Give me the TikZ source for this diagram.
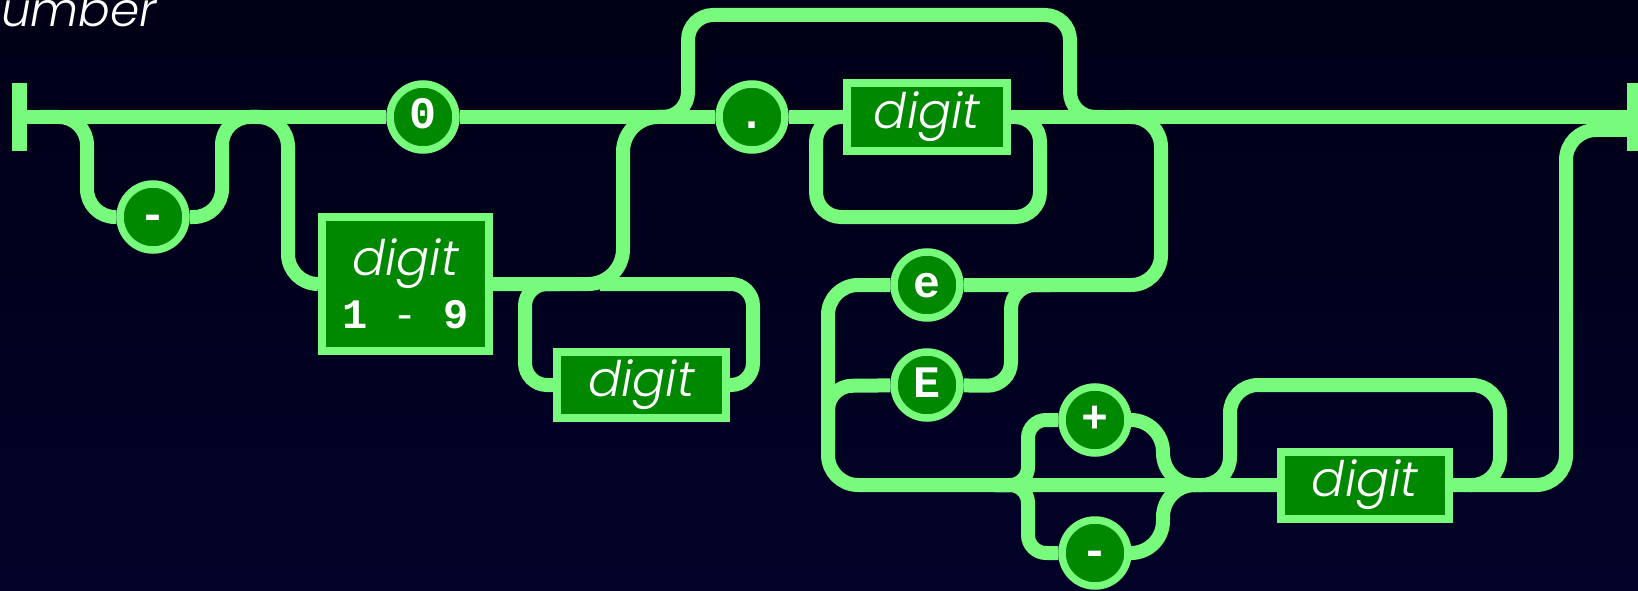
\documentclass[tikz,border=0pt]{standalone}
\usepackage{fontspec}
\newfontfamily\railsans{Poppins}[UprightFont={* Light Italic}]
\newfontfamily\railmono{Liberation Mono}
\definecolor{railgreen}{RGB}{120,250,124}
\definecolor{boxgreen}{RGB}{0,136,0}
\definecolor{skytop}{RGB}{0,0,22}
\definecolor{skybottom}{RGB}{2,2,40}
\pgfdeclarelayer{backdrop}
\pgfdeclarelayer{rails}
\pgfsetlayers{backdrop,rails,main}
\newcommand\railntfont{\railsans\fontsize{49}{53}\selectfont}
\newcommand\railtermfont{\railmono\bfseries\upshape\fontsize{45}{45}\selectfont}
\newcommand\railtitlefont{\railsans\fontsize{47}{52}\selectfont}
\tikzset{
  rail/.style={draw=railgreen, line width=14pt, rounded corners=28pt},
  terminal/.style={circle, draw=railgreen, fill=boxgreen, line width=7.5pt,
    minimum size=66pt, inner sep=0pt, text=white, font=\railtermfont,
    text height=24pt, text depth=0pt},
  nonterminal/.style={rectangle, draw=railgreen, fill=boxgreen, line width=8pt,
    inner sep=0pt, text=white, font=\railntfont},
  endbar/.style={rectangle, fill=railgreen, minimum width=15pt,
    minimum height=68pt, inner sep=0pt},
}
\begin{document}
\begin{tikzpicture}[x=1pt,y=-1pt]
\useasboundingbox (0,0) rectangle (1638,591);
\begin{pgfonlayer}{backdrop}
  \fill[top color=skytop, bottom color=skybottom] (0,0) rectangle (1638,591);
\end{pgfonlayer}

% title
\node[anchor=base east, font=\railtitlefont, text=white, inner sep=0pt] (title) at (157,27) {Number};

% end bars
\node[endbar] (start) at (19.5,117) {};
\node[endbar] (stop) at (1634.5,117) {};

% terminals and non-terminals
\node[terminal] (neg) at (153,217) {-};
\node[terminal] (zero) at (423,117) {0};
\node[nonterminal, minimum width=167pt, minimum height=134pt, align=center] (d19)
  at (405.5,284) {digit\\{\railtermfont\fontsize{42}{42}\selectfont 1 {\mdseries -} 9}};
\node[nonterminal, minimum width=169pt, minimum height=66pt] (dA) at (641.5,385) {digit};
\node[terminal] (dot) at (752,117) {.};
\node[nonterminal, minimum width=160pt, minimum height=68pt] (dB) at (927,117) {digit};
\node[terminal] (elo) at (927,285) {e};
\node[terminal] (eup) at (927,385) {E};
\node[terminal] (plus) at (1095,420) {+};
\node[terminal] (minus) at (1095,553) {-};
\node[nonterminal, minimum width=168pt, minimum height=67pt] (dC) at (1365,485) {digit};

% junctions on the rails
\coordinate (j1) at (40,117);
\coordinate (j2) at (262,117);
\coordinate (j3) at (250,117);
\coordinate (j4) at (668,117);
\coordinate (j5) at (600,284);
\coordinate (j6) at (560,284);
\coordinate (j7) at (655,117);
\coordinate (j8) at (1105,117);
\coordinate (j9) at (845,117);
\coordinate (j10) at (1012,117);
\coordinate (j11) at (1125,117);
\coordinate (j12) at (828,440);
\coordinate (j13) at (1050,285);
\coordinate (j14) at (995,485);
\coordinate (j15) at (1196,485);
\coordinate (j16) at (1198,485);
\coordinate (j17) at (1470,485);

\begin{pgfonlayer}{rails}
  % main line
  \draw[rail] (start) -- (zero) -- (dot) -- (dB) -- (stop);
  % optional minus sign
  \draw[rail] (j1) -- (87,117) -- (87,217) -- (neg) -- (222,217) -- (222,117) -- (j2);
  % integer part: 1-9 followed by digits
  \draw[rail, rounded corners=30pt] (j3) -- (288,117) -- (288,284) -- (d19);
  \draw[rail, rounded corners=35pt] (d19) -- (623,284) -- (623,117) -- (j4);
  \draw[rail, rounded corners=22pt] (j5) -- (753,284) -- (753,385) -- (dA)
    -- (525,385) -- (525,284) -- (j6);
  % optional fraction
  \draw[rail, rounded corners=25pt] (j7) -- (688,117) -- (688,15) -- (1070,15)
    -- (1070,117) -- (j8);
  \draw[rail, rounded corners=25pt] (j9) -- (816,117) -- (816,217) -- (1040,217)
    -- (1040,117) -- (j10);
  % optional exponent
  \draw[rail, rounded corners=30pt] (j11) -- (1161,117) -- (1161,285) -- (elo);
  \draw[rail, rounded corners=30pt] (elo) -- (828,285) -- (828,485)
    [rounded corners=45pt] -- (dC);
  \draw[rail, rounded corners=24pt] (j12) -- (828,386) -- (eup) -- (1011,386)
    -- (1011,285) -- (j13);
  % optional sign of the exponent
  \draw[rail, rounded corners=18pt] (j14) -- (1028,485) -- (1028,420)
    [rounded corners=32pt] -- (plus) -- (1163,420) -- (1163,485)
    [rounded corners=18pt] -- (j15);
  \draw[rail, rounded corners=18pt] (j14) -- (1028,485) -- (1028,553)
    [rounded corners=32pt] -- (minus) -- (1163,553) -- (1163,485)
    [rounded corners=18pt] -- (j15);
  % exponent digits
  \draw[rail, rounded corners=28pt] (j16) -- (1230,485) -- (1230,385) -- (1500,385)
    -- (1500,485) -- (j17);
  \draw[rail, rounded corners=30pt] (dC) -- (1566,485) -- (1566,130)
    [rounded corners=55pt] -- ([yshift=-13pt]stop.west);
\end{pgfonlayer}
\end{tikzpicture}
\end{document}
